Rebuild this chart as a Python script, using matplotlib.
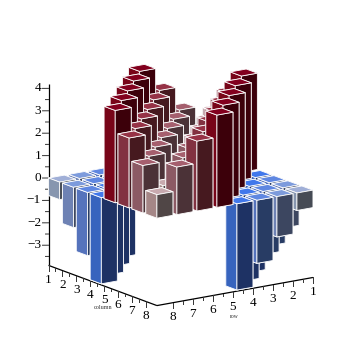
import numpy as np
import matplotlib
matplotlib.use("Agg")
import matplotlib.pyplot as plt
from mpl_toolkits.mplot3d import proj3d

rows = [1, 2, 3, 4, 5, 6, 7, 8]
cols = [1, 2, 3, 4, 5, 6, 7, 8]
row_1 = [1.13, 2.25, 3.29, 4.30, -3.85, -2.82, -1.80, -0.78]
row_2 = [2.25, 1.12, 2.23, 3.26, 4.26, -3.85, -2.82, -1.80]
row_3 = [3.29, 2.23, 1.11, 2.21, 3.22, 4.21, -3.85, -2.82]
row_4 = [4.30, 3.26, 2.21, 1.09, 2.19, 3.19, 4.17, -3.85]
row_5 = [-3.85, 4.26, 3.22, 2.19, 1.08, 2.16, 3.15, 4.12]
row_6 = [-2.82, -3.85, 4.21, 3.19, 2.16, 1.07, 2.14, 3.12]
row_7 = [-1.80, -2.82, -3.85, 4.17, 3.15, 2.14, 1.06, 2.12]
row_8 = [-0.78, -1.80, -2.82, -3.85, 4.12, 3.12, 2.12, 1.05]
values = [row_1, row_2, row_3, row_4, row_5, row_6, row_7, row_8]
z_ticks = [-3, -2, -1, 0, 1, 2, 3, 4]

top_col = {4: '#82001e', 3: '#963246', 2: '#a55f6e', 1: '#c8aaaf',
           -1: '#a0afd7', -2: '#7d9bdc', -3: '#5f87e1', -4: '#4178eb'}
left_col = {4: '#780519', 3: '#823241', 2: '#8c5a64', 1: '#a58787',
            -1: '#8796af', -2: '#6e82b4', -3: '#5573bc', -4: '#3764be'}
right_col = {4: '#3c000a', 3: '#46191f', 2: '#4b3237', 1: '#504646',
             -1: '#464b55', -2: '#3c4660', -3: '#283c64', -4: '#1e3264'}

BW = 0.8
Z_FLOOR = -3.9
SERIF = 'Liberation Serif'

fig = plt.figure(figsize=(3.55, 3.55), dpi=100)
ax = fig.add_axes([0, 0, 1, 1], projection='3d', proj_type='ortho')
ax.view_init(elev=14.97, azim=-34.87, roll=0)
ax.set_xlim(0, 10)
ax.set_ylim(10, 0)
ax.set_zlim(-5, 5)
ax.set_axis_off()
ax.patch.set_alpha(0)
fig.patch.set_facecolor('white')
ax.computed_zorder = False

aspect = (243.1, 243.8, 231.9)


def px(x, y, z):
    a, b, _ = proj3d.proj_transform(x, y, z, ax.get_proj())
    return ax.transData.transform((a, b))


ax.set_box_aspect(aspect, zoom=1.0)
scale = 13.9 / (px(2, 5, 0) - px(1, 5, 0))[0]
ax.set_box_aspect(aspect, zoom=scale)
p0 = px(1, 8.8, 0)
dx = (48.5 - p0[0]) / 355
dy = ((355 - 178) - p0[1]) / 355
ax.set_position([dx, dy, 1, 1])


def label(x, y, z, s, **kw):
    p = px(x, y, z)
    fig.text(p[0] / 355, p[1] / 355, s, family=SERIF, fontsize=9.5, va='center', **kw)


zo = 10
for ia, a in enumerate(cols):
    for ib, b in enumerate(rows):
        v = values[ib][ia]
        level = int(np.sign(v) * round(abs(v)))
        z0 = min(v, 0)
        t = top_col[level]
        # order: -z, +z, -y, +y, -x, +x
        ax.bar3d(a, b, z0, BW, BW, abs(v),
                 color=[t, t, right_col[level], left_col[level], left_col[level], right_col[level]],
                 edgecolor='white', linewidth=0.6, shade=False, zorder=zo)
        zo += 1

axis_kw = dict(color='black', lw=0.9, zorder=1, solid_capstyle='butt')
tick_kw = dict(color='#333333', lw=0.7, zorder=1)
AX_END = 8.8
ax.plot([1, AX_END], [AX_END, AX_END], [Z_FLOOR, Z_FLOOR], **axis_kw)
ax.plot([AX_END, AX_END], [AX_END, 1], [Z_FLOOR, Z_FLOOR], **axis_kw)
ax.plot([1, 1], [AX_END, AX_END], [Z_FLOOR, 4.2], **axis_kw)

for k in cols:
    ax.plot([k, k], [AX_END, AX_END], [Z_FLOOR, Z_FLOOR - 0.24], **tick_kw)
    ax.plot([AX_END, AX_END], [k, k], [Z_FLOOR, Z_FLOOR - 0.24], **tick_kw)
    if k < 8:
        ax.plot([k + .5, k + .5], [AX_END, AX_END], [Z_FLOOR, Z_FLOOR - 0.12], **tick_kw)
        ax.plot([AX_END, AX_END], [k + .5, k + .5], [Z_FLOOR, Z_FLOOR - 0.12], **tick_kw)
    label(k, AX_END, Z_FLOOR - 0.64, str(k), ha='center')
    label(AX_END, k, Z_FLOOR - 0.66, str(k), ha='center')

# screen-left direction in the data plane, per pixel
LX, LY = -0.023, 0.0338
for z in z_ticks:
    ax.plot([1, 1 + 6 * LX], [AX_END, AX_END + 6 * LY], [z, z], **tick_kw)
    if z < 0:
        label(1 + 7.5 * LX, AX_END + 7.5 * LY, z, str(z).replace('-', '\u2212'), ha='right')
    else:
        label(1 + 10.5 * LX, AX_END + 10.5 * LY, z, str(z), ha='center')
for z in [-3.5, -2.5, -1.5, -0.5, 0.5, 1.5, 2.5, 3.5]:
    ax.plot([1, 1 + 3 * LX], [AX_END, AX_END + 3 * LY], [z, z], **tick_kw)

fig.text(103 / 355, 1 - 307.5 / 355, 'column', family=SERIF, fontsize=4.4,
         ha='center', va='center', color='#333333')
fig.text(234 / 355, 1 - 316 / 355, 'row', family=SERIF, fontsize=4.0,
         ha='center', va='center', color='#333333')

fig.savefig('out.png', dpi=100, facecolor='white')
